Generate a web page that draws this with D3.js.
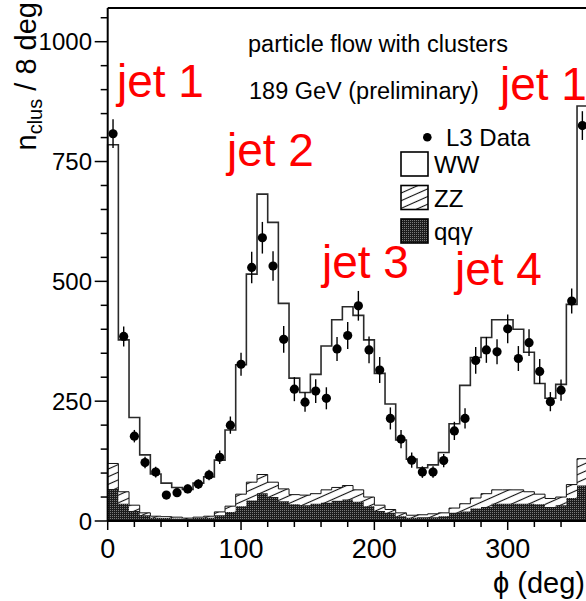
<!DOCTYPE html>
<html>
<head>
<meta charset="utf-8">
<script src="https://cdn.jsdelivr.net/npm/d3@7"></script>
<style>
  body { margin: 0; background: #fff; }
  svg { display: block; font-family: "Liberation Sans", Arial, sans-serif; }
</style>
</head>
<body>
<div id="chart"></div>
<script>
// phi bins of 8 degrees, 0..360
const binLow = d3.range(0, 360, 8);
const binWidth = 8;

// Monte Carlo contributions per bin (stacked: qqg, ZZ, WW)
const wwMC  = [665,317,183,121,88,70,62,60,71,82,108,159,270,434,585,542,387,243,214,249,300,350,373,364,328,275,220,152,117,98,102,126,176,247,293,326,355,355,335,291,231,209,235,376,736];
const zzMC  = [53,25,12,5,3,3,3,2,2,3,7,12,25,38,39,31,26,20,21,21,27,28,29,25,19,12,7,7,5,5,7,7,10,16,22,28,29,29,29,25,21,18,17,28,56];
const qqgMC = [67,36,21,12,7,6,5,4,6,7,12,19,31,43,58,50,41,35,33,36,38,42,45,40,31,21,17,10,7,8,8,10,17,20,26,29,36,36,36,36,35,29,33,48,74];

// L3 data points and their errors
const l3Data = [808,385,177,122,102,54,59,67,77,96,133,200,327,529,591,532,379,275,248,271,256,359,387,449,357,315,214,171,127,102,102,126,188,214,335,357,353,401,339,372,312,249,273,459,825];
const l3Err  = [30,21,13,12,11,8,8,9,10,11,14,18,24,33,33,31,28,25,20,25,23,25,28,31,28,27,23,19,16,12,12,14,19,21,28,27,26,30,26,28,26,20,22,26,30];

const xTicks = [0, 100, 200, 300];
const yTicks = [0, 250, 500, 750, 1000];

const jetLabels = [
  {text: 'jet 1', x: 117, y: 97},
  {text: 'jet 2', x: 227, y: 166},
  {text: 'jet 3', x: 322, y: 278},
  {text: 'jet 4', x: 455, y: 285},
  {text: 'jet 1', x: 500, y: 100}
];

const W = 586, H = 601;
const svg = d3.select('#chart').append('svg')
  .attr('width', W).attr('height', H);

const x = d3.scaleLinear().domain([0, 360]).range([107.7, 587.7]);
const y = d3.scaleLinear().domain([0, 1000]).range([521, 41.7]);
const yTop = 8;

// Patterns
const defs = svg.append('defs');
const hatch = defs.append('pattern')
  .attr('id', 'hatch')
  .attr('patternUnits', 'userSpaceOnUse')
  .attr('width', 7).attr('height', 7)
  .attr('patternTransform', 'rotate(-24)');
hatch.append('rect').attr('width', 7).attr('height', 7).attr('fill', '#fff');
hatch.append('line').attr('x1', 0).attr('x2', 7).attr('y1', 3.5).attr('y2', 3.5)
  .attr('stroke', '#111').attr('stroke-width', 1.1);

const stip = defs.append('pattern')
  .attr('id', 'stip')
  .attr('patternUnits', 'userSpaceOnUse')
  .attr('width', 2).attr('height', 2);
stip.append('rect').attr('width', 2).attr('height', 2).attr('fill', '#1c1c1c');
stip.append('rect').attr('width', 1).attr('height', 1).attr('fill', '#7a7a7a');

// Stack the MC
const rows = binLow.map((lo, i) => ({lo, qqg: qqgMC[i], zz: zzMC[i], ww: wwMC[i]}));
const stack = d3.stack().keys(['qqg', 'zz', 'ww'])(rows);

function stepPoints(layer) {
  const pts = [];
  layer.forEach(d => {
    pts.push({x: d.data.lo, y0: d[0], y1: d[1]});
    pts.push({x: d.data.lo + binWidth, y0: d[0], y1: d[1]});
  });
  return pts;
}

const area = d3.area()
  .x(d => x(d.x))
  .y0(d => y(d.y0))
  .y1(d => y(d.y1));

const topLine = d3.line()
  .x(d => x(d.x))
  .y(d => y(d.y1));

const plot = svg.append('g');

// WW total outline
const wwPts = stepPoints(stack[2]);
wwPts.unshift({x: 0, y0: 0, y1: 0});
wwPts.push({x: 360, y0: 0, y1: 0});
plot.append('path')
  .attr('d', topLine(wwPts))
  .attr('fill', 'none')
  .attr('stroke', '#2a2a2a')
  .attr('stroke-width', 1.6);

// ZZ hatched (from 0 up to qqg+zz, qqg drawn over)
const zzPts = stepPoints(stack[1]).map(d => ({x: d.x, y0: 0, y1: d.y1}));
plot.append('path')
  .attr('d', area(zzPts))
  .attr('fill', 'url(#hatch)')
  .attr('stroke', '#111')
  .attr('stroke-width', 1);

// qqgamma dark
plot.append('path')
  .attr('d', area(stepPoints(stack[0])))
  .attr('fill', 'url(#stip)')
  .attr('stroke', 'none');

// Data points
const pts = plot.append('g');
binLow.forEach((lo, i) => {
  const cx = x(lo + binWidth / 2);
  pts.append('line')
    .attr('x1', cx).attr('x2', cx)
    .attr('y1', y(l3Data[i] - l3Err[i])).attr('y2', y(l3Data[i] + l3Err[i]))
    .attr('stroke', '#000').attr('stroke-width', 1.4);
  pts.append('circle')
    .attr('cx', cx).attr('cy', y(l3Data[i]))
    .attr('r', 4.6).attr('fill', '#000');
});

// Frame
const fr = svg.append('g').attr('fill', 'none').attr('stroke', '#000');
fr.append('line').attr('x1', x(0)).attr('x2', x(360)).attr('y1', yTop).attr('y2', yTop).attr('stroke-width', 2);
fr.append('line').attr('x1', x(360)).attr('x2', x(360)).attr('y1', yTop).attr('y2', y(0)).attr('stroke-width', 2);

// Y axis
const yAxis = svg.append('g');
yAxis.append('line').attr('x1', x(0)).attr('x2', x(0)).attr('y1', yTop).attr('y2', y(0))
  .attr('stroke', '#000').attr('stroke-width', 2);
d3.range(0, 1051, 50).forEach(v => {
  const major = v % 250 === 0;
  yAxis.append('line')
    .attr('x1', x(0) - (major ? 13 : 7)).attr('x2', x(0))
    .attr('y1', y(v)).attr('y2', y(v))
    .attr('stroke', '#000').attr('stroke-width', 1.5);
});
yAxis.selectAll('text.ytick').data(yTicks).enter().append('text')
  .attr('class', 'ytick')
  .attr('x', 92).attr('y', d => y(d))
  .attr('dy', '0.36em')
  .attr('text-anchor', 'end')
  .attr('font-size', 24)
  .text(d => d);

// X axis
const xAxis = svg.append('g');
xAxis.append('line').attr('x1', x(0)).attr('x2', x(360)).attr('y1', y(0)).attr('y2', y(0))
  .attr('stroke', '#000').attr('stroke-width', 2);
d3.range(0, 361, 20).forEach(v => {
  const major = v % 100 === 0;
  xAxis.append('line')
    .attr('x1', x(v)).attr('x2', x(v))
    .attr('y1', y(0)).attr('y2', y(0) + (major ? 9 : 6))
    .attr('stroke', '#000').attr('stroke-width', 1.5);
});
xAxis.selectAll('text.xtick').data(xTicks).enter().append('text')
  .attr('class', 'xtick')
  .attr('x', d => x(d)).attr('y', 558)
  .attr('text-anchor', 'middle')
  .attr('font-size', 27)
  .text(d => d);

// Axis titles
svg.append('text')
  .attr('x', 585).attr('y', 593)
  .attr('text-anchor', 'end')
  .attr('font-size', 29)
  .text('\u03d5 (deg)');

const yt = svg.append('text')
  .attr('transform', 'translate(36,2) rotate(-90)')
  .attr('text-anchor', 'end')
  .attr('font-size', 29);
yt.append('tspan').text('n');
yt.append('tspan').attr('font-size', 20).attr('dy', 6).text('clus');
yt.append('tspan').attr('dy', -6).text(' / 8 deg');

// Headers
svg.append('text').attr('x', 248).attr('y', 52).attr('font-size', 23.5)
  .text('particle flow with clusters');
svg.append('text').attr('x', 249).attr('y', 99).attr('font-size', 23.5)
  .text('189 GeV (preliminary)');

// Jet labels
svg.selectAll('text.jet').data(jetLabels).enter().append('text')
  .attr('class', 'jet')
  .attr('x', d => d.x).attr('y', d => d.y)
  .attr('font-size', 46)
  .attr('fill', '#ff0000')
  .text(d => d.text);

// Legend
const lg = svg.append('g');
lg.append('circle').attr('cx', 427.3).attr('cy', 137.3).attr('r', 4.3).attr('fill', '#000');
lg.append('text').attr('x', 446).attr('y', 146).attr('font-size', 24).text('L3 Data');
const legItems = [
  {label: 'WW', fill: '#fff', y: 152},
  {label: 'ZZ', fill: 'url(#hatch)', y: 185.5},
  {label: 'qq\u03b3', fill: 'url(#stip)', y: 219}
];
legItems.forEach(d => {
  lg.append('rect')
    .attr('x', 401).attr('y', d.y).attr('width', 27).attr('height', 24)
    .attr('fill', d.fill).attr('stroke', '#000').attr('stroke-width', 1.6);
  lg.append('text')
    .attr('x', 434).attr('y', d.y + 21)
    .attr('font-size', 24)
    .text(d.label);
});
</script>
</body>
</html>
